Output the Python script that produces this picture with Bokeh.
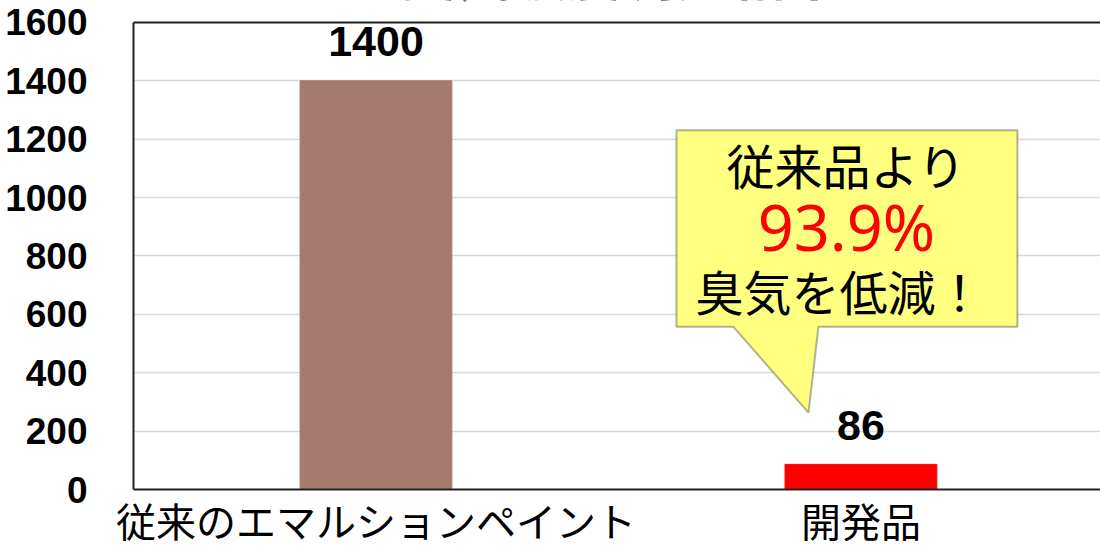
from bokeh.plotting import figure
from bokeh.models import (ColumnDataSource, FixedTicker, Range1d, PolyAnnotation,
                          Label, Span)
from bokeh.core.properties import value
from bokeh.embed import file_html
from bokeh.resources import INLINE

# ---- data ----
categories = ["従来のエマルションペイント", "開発品"]
odor_values = [1400, 86]
bar_colors = ["#A57B6E", "#FF0000"]
y_ticks = [0, 200, 400, 600, 800, 1000, 1200, 1400, 1600]
title_text = "臭気濃度測定結果"
callout_lines = ["従来品より", "93.9%", "臭気を低減！"]

positions = [i + 0.5 for i in range(len(categories))]
labels = [str(v) for v in odor_values]

src = ColumnDataSource(dict(x=positions, top=odor_values, color=bar_colors, label=labels))

# frame reaches the top of the canvas so that the (cut-off) title can show there
p = figure(width=1100, height=547, output_backend="svg", toolbar_location=None,
           x_range=Range1d(0, 1.994), y_range=Range1d(0, 1675.2),
           min_border_left=133, min_border_top=0, min_border_bottom=57,
           min_border_right=0)
p.outline_line_color = None
p.background_fill_color = "white"

p.vbar(x="x", top="top", width=0.313, color="color", source=src)
p.text(x="x", y="top", text="label", source=src, text_align="center",
       text_baseline="middle", y_offset=-39,
       text_font=value("Liberation Sans"), text_font_style="bold",
       text_font_size="43px", text_color="black")

# axes
p.yaxis.ticker = FixedTicker(ticks=y_ticks)
p.yaxis.bounds = (0, 1600)
p.yaxis.major_label_text_font = "Liberation Sans"
p.yaxis.major_label_text_font_style = "bold"
p.yaxis.major_label_text_font_size = "37px"
p.yaxis.major_label_text_color = "black"
p.yaxis.major_label_standoff = 40
p.yaxis.major_tick_line_color = None
p.yaxis.minor_tick_line_color = None
p.yaxis.axis_line_color = "#222222"
p.yaxis.axis_line_width = 2

p.xaxis.ticker = FixedTicker(ticks=positions)
p.xaxis.major_label_overrides = {pos: c for pos, c in zip(positions, categories)}
p.xaxis.major_label_text_font = "Liberation Sans, Noto Sans CJK JP"
p.xaxis.major_label_text_font_size = "40px"
p.xaxis.major_label_text_color = "black"
p.xaxis.major_label_standoff = 5
p.xaxis.major_tick_line_color = None
p.xaxis.minor_tick_line_color = None
p.xaxis.axis_line_color = "#222222"
p.xaxis.axis_line_width = 2

p.xgrid.grid_line_color = None
p.ygrid.grid_line_color = "#d9d9d9"
p.ygrid.grid_line_width = 1.5

p.add_layout(Span(location=1600, dimension="width", line_color="#222222", line_width=2))

# title (cut off at the top, as in the original)
p.add_layout(Label(x=1.006, y=1775, text=title_text, text_align="center",
                   text_baseline="middle", text_font="Noto Sans CJK JP",
                   text_font_style="bold", text_font_size="55px", text_color="black"))

# callout bubble
L, R, T, B = 1.1196, 1.8227, 1230.8, 557.3
tail_l, tail_r, tip_x, tip_y = 1.2371, 1.4124, 1.3918, 263.2
p.add_layout(PolyAnnotation(
    xs=[L, R, R, tail_r, tip_x, tail_l, L],
    ys=[T, T, B, B, tip_y, B, B],
    fill_color="#FFFF80", fill_alpha=1.0, line_color="black", line_width=2))

p.add_layout(Label(x=1.470, y=1114, text=callout_lines[0], text_align="center",
                   text_baseline="middle", text_font="Noto Sans CJK JP",
                   text_font_size="48px", text_color="black"))
p.add_layout(Label(x=1.470, y=902, text=callout_lines[1], text_align="center",
                   text_baseline="middle", text_font="Noto Sans",
                   text_font_size="63px", text_color="#FF0000"))
p.add_layout(Label(x=1.456, y=684, text=callout_lines[2], text_align="center",
                   text_baseline="middle", text_font="Noto Sans CJK JP",
                   text_font_size="48px", text_color="black"))

open("out.html", "w").write(file_html(p, INLINE))
